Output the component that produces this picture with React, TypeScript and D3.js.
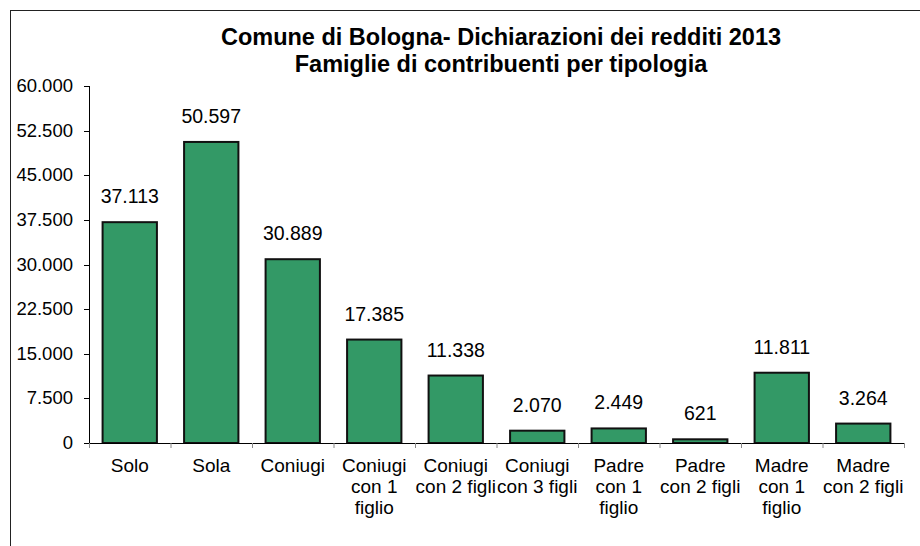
import React from "react";
import * as d3 from "d3";

const titleLines = [
  "Comune di Bologna- Dichiarazioni dei redditi 2013",
  "Famiglie di contribuenti per tipologia",
];
const categories = [
  "Solo",
  "Sola",
  "Coniugi",
  "Coniugi con 1 figlio",
  "Coniugi con 2 figli",
  "Coniugi con 3 figli",
  "Padre con 1 figlio",
  "Padre con 2 figli",
  "Madre con 1 figlio",
  "Madre con 2 figli",
];
const categoryLines = [
  ["Solo"],
  ["Sola"],
  ["Coniugi"],
  ["Coniugi", "con 1", "figlio"],
  ["Coniugi", "con 2 figli"],
  ["Coniugi", "con 3 figli"],
  ["Padre", "con 1", "figlio"],
  ["Padre", "con 2 figli"],
  ["Madre", "con 1", "figlio"],
  ["Madre", "con 2 figli"],
];
const values = [37113, 50597, 30889, 17385, 11338, 2070, 2449, 621, 11811, 3264];
const yTicks = [0, 7500, 15000, 22500, 30000, 37500, 45000, 52500, 60000];

const W = 920;
const H = 546;
const plot = { left: 89, right: 904, top: 86, bottom: 443 };
const FONT = "Arial, 'Liberation Sans', sans-serif";

const itLocale = d3.formatLocale({
  decimal: ",",
  thousands: ".",
  grouping: [3],
  currency: ["€", ""],
});
const fmt = itLocale.format(",d");

export default function App() {
  const x = d3
    .scaleBand<string>()
    .domain(categories)
    .range([plot.left, plot.right])
    .paddingInner(1 / 3)
    .paddingOuter(1 / 6);
  const y = d3.scaleLinear().domain([0, 60000]).range([plot.bottom, plot.top]);
  const step = x.step();
  const tickXs = d3.range(categories.length + 1).map((i) => plot.left + i * step);

  return (
    <svg
      width={W}
      height={H}
      style={{ position: "absolute", left: 0, top: 0, background: "#fff" }}
      fontFamily={FONT}
    >
      <rect x={10.5} y={10.5} width={W + 20} height={H + 20} fill="#fff" stroke="#222" strokeWidth={1} />
      {titleLines.map((t, i) => (
        <text
          key={i}
          x={501}
          y={45 + i * 27}
          textAnchor="middle"
          fontSize={23.5}
          fontWeight="bold"
          fill="#000"
        >
          {t}
        </text>
      ))}
      {/* y axis */}
      <line x1={plot.left + 0.5} x2={plot.left + 0.5} y1={plot.top} y2={plot.bottom} stroke="#000" />
      {yTicks.map((t) => (
        <g key={t}>
          <line x1={plot.left - 5} x2={plot.left} y1={Math.round(y(t)) + 0.5} y2={Math.round(y(t)) + 0.5} stroke="#000" />
          <text x={73} y={y(t) + 6} textAnchor="end" fontSize={18.5} fill="#000">
            {fmt(t)}
          </text>
        </g>
      ))}
      {/* bars */}
      {values.map((v, i) => {
        const c = categories[i];
        const bx = x(c)!;
        const by = y(v);
        return (
          <g key={c}>
            <rect
              x={bx}
              y={by}
              width={x.bandwidth()}
              height={plot.bottom - by}
              fill="#339966"
              stroke="#111"
              strokeWidth={2}
            />
            <text x={bx + x.bandwidth() / 2} y={by - 19} textAnchor="middle" fontSize={19.5} fill="#000">
              {fmt(v)}
            </text>
          </g>
        );
      })}
      {/* x axis */}
      <line x1={plot.left} x2={plot.right} y1={plot.bottom + 0.5} y2={plot.bottom + 0.5} stroke="#000" />
      {tickXs.map((tx, i) => (
        <line key={i} x1={tx + 0.5} x2={tx + 0.5} y1={plot.bottom} y2={plot.bottom + 5} stroke="#888" />
      ))}
      {categoryLines.map((lines, i) => (
        <text
          key={i}
          x={x(categories[i])! + x.bandwidth() / 2}
          y={472}
          textAnchor="middle"
          fontSize={19}
          fill="#000"
        >
          {lines.map((l, j) => (
            <tspan key={j} x={x(categories[i])! + x.bandwidth() / 2} dy={j === 0 ? 0 : 21}>
              {l}
            </tspan>
          ))}
        </text>
      ))}
    </svg>
  );
}
